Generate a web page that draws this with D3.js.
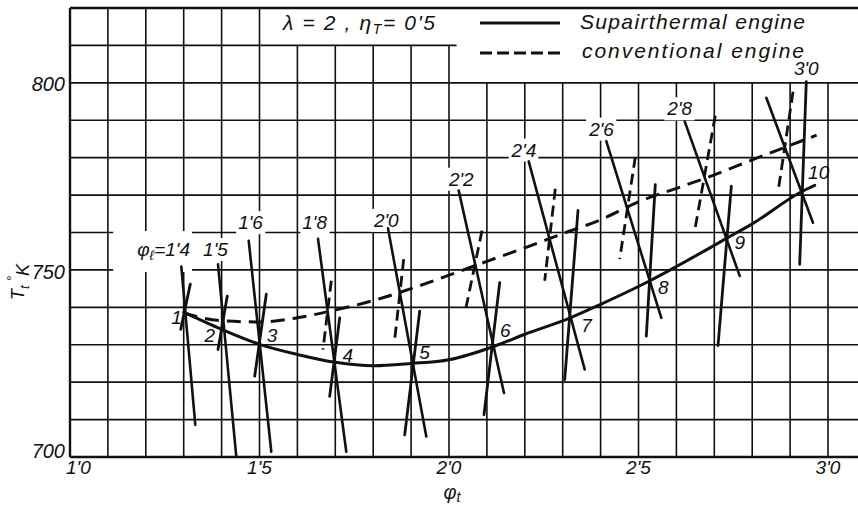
<!DOCTYPE html>
<html><head><meta charset="utf-8">
<script src="https://cdn.jsdelivr.net/npm/d3@7"></script>
<style>
body{margin:0;background:#fff}
text{font-family:"Liberation Sans","DejaVu Sans",sans-serif;font-style:italic;fill:#111}
</style>
</head><body>
<svg id="c" width="858" height="508"></svg>
<script>
// ---------------- DATA ----------------
const xTicks = [1.0, 1.5, 2.0, 2.5, 3.0];
const xTickLabels = ["1'0", "1'5", "2'0", "2'5", "3'0"];
const yTicks = [700, 750, 800];
const yTickLabels = ["700", "750", "800"];

// Supairthermal engine (solid)
const supPhi = [1.30, 1.40, 1.50, 1.60, 1.70, 1.80, 1.90, 2.00, 2.12, 2.20, 2.32, 2.40, 2.53, 2.60, 2.73, 2.80, 2.93, 2.965];
const supT   = [738.7, 734.1, 730.1, 727.4, 725.3, 724.4, 725.0, 726.0, 729.6, 732.8, 737.2, 740.8, 747.1, 750.9, 758.3, 762.3, 770.9, 772.6];

// Conventional engine (dashed)
const convPhi = [1.30, 1.40, 1.50, 1.60, 1.70, 1.80, 1.90, 2.00, 2.10, 2.20, 2.30, 2.40, 2.50, 2.60, 2.70, 2.80, 2.90, 2.97];
const convT   = [738.5, 736.4, 736.1, 737.2, 739.3, 741.8, 745.0, 748.6, 752.3, 755.9, 759.7, 763.4, 768.2, 771.8, 775.4, 779.4, 783.3, 786.0];

// numbered operating points on the solid curve
const pointNames = ["1", "2", "3", "4", "5", "6", "7", "8", "9", "10"];
const pointPhi = [1.303, 1.401, 1.498, 1.698, 1.903, 2.116, 2.320, 2.528, 2.732, 2.929];
const pointT   = [738.7, 734.1, 730.1, 725.3, 725.0, 729.6, 737.2, 747.1, 758.3, 770.9];

// phi_l construction lines: [phi1, T1, phi2, T2]
const stationNames = ["1'4", "1'5", "1'6", "1'8", "2'0", "2'2", "2'4", "2'6", "2'8", "3'0"];
const stationLong = [
  [1.2937, 750.9, 1.3306, 708.6],
  [1.3905, 751.5, 1.4388, 700.1],
  [1.4715, 757.8, 1.5311, 701.4],
  [1.6544, 758.3, 1.7290, 701.4],
  [1.8391, 761.1, 1.9401, 705.5],
  [2.0256, 771.2, 2.1451, 717.1],
  [2.2103, 779.0, 2.3580, 723.4],
  [2.4150, 784.4, 2.5602, 737.2],
  [2.6219, 789.7, 2.7670, 748.4],
  [2.8372, 796.0, 2.9604, 762.6]
];
const stationCross = [
  [1.3174, 746.2, 1.2921, 734.1],
  [1.4150, 743.0, 1.3905, 728.7],
  [1.5179, 743.5, 1.4873, 721.6],
  [1.7116, 737.2, 1.6852, 716.2],
  [1.9227, 739.0, 1.8831, 705.9],
  [2.1338, 746.6, 2.0923, 711.3],
  [2.3404, 765.9, 2.3053, 720.7],
  [2.5443, 772.8, 2.5206, 732.3],
  [2.7449, 772.4, 2.7098, 729.8],
  [2.9427, 800.3, 2.9253, 751.5]
];
const stationDash = [
  [1.6894, 747.1, 1.6675, 728.7],
  [1.8805, 752.9, 1.8567, 731.4],
  [2.0871, 760.5, 2.0430, 739.0],
  [2.2805, 771.7, 2.2525, 747.1],
  [2.4916, 780.2, 2.4504, 752.9],
  [2.7026, 791.2, 2.6483, 760.5],
  [2.9077, 797.6, 2.8681, 770.8]
];
const stationLabelPhi = [1.3166, 1.3839, 1.4763, 1.6456, 1.8346, 2.0325, 2.1979, 2.4024, 2.6087, 2.9427];
const stationLabelT   = [753.7, 753.7, 760.9, 760.9, 761.5, 772.5, 780.3, 785.9, 791.3, 802.0];

// ---------------- LAYOUT ----------------
const svg = d3.select("#c");
svg.append("rect").attr("width", 858).attr("height", 508).attr("fill", "#fff");
const x = d3.scaleLinear().domain([1, 3]).range([70, 828]);
const y = d3.scaleLinear().domain([700, 820]).range([457, 8]);
const ink = "#111";

// grid
const g = svg.append("g").attr("stroke", ink).attr("fill", "none");
const vx = d3.range(10, 32).map(d => d / 10);
vx.forEach(p => {
  const top = p <= 1.5001 ? 820 : (p <= 2.0001 ? 810 : 800);
  g.append("line").attr("x1", x(p)).attr("x2", x(p)).attr("y1", y(700)).attr("y2", y(top))
    .attr("stroke-width", p === 1 ? 2.4 : 1.6);
});
d3.range(700, 830, 10).forEach(t => {
  const x2 = t === 810 ? x(2.02) : 858;
  g.append("line").attr("x1", x(1)).attr("x2", x2).attr("y1", y(t)).attr("y2", y(t))
    .attr("stroke-width", (t === 700 || t === 820) ? 2.4 : 1.6);
});

// station labels with knock-out backgrounds
const knockG = svg.append("g");
const lineG = svg.append("g").attr("stroke", ink).attr("fill", "none").attr("stroke-linecap", "round");
const labG = svg.append("g");

stationNames.forEach((nm, i) => {
  const t = labG.append("text")
    .attr("x", x(stationLabelPhi[i])).attr("y", y(stationLabelT[i]))
    .attr("font-size", 19)
    .attr("text-anchor", i === 0 ? "end" : "middle");
  if (i === 0) {
    t.append("tspan").text("φ");
    t.append("tspan").attr("font-size", 14).attr("dy", 4).text("ℓ");
    t.append("tspan").attr("dy", -4).text("=" + nm);
  } else {
    t.text(nm);
  }
  const b = t.node().getBBox();
  const pad = i === 0 ? [24, 8, 2, 9] : [2, 1, 2, 1]; // left, top, right, bottom
  knockG.append("rect").attr("x", b.x - pad[0]).attr("y", b.y - pad[1])
    .attr("width", b.width + pad[0] + pad[2]).attr("height", b.height + pad[1] + pad[3])
    .attr("fill", "#fff");
});

// construction lines
const seg = (arr, dashed, w) => arr.forEach(s => {
  lineG.append("line").attr("x1", x(s[0])).attr("y1", y(s[1])).attr("x2", x(s[2])).attr("y2", y(s[3]))
    .attr("stroke-width", w).attr("stroke-dasharray", dashed ? "11,6" : null)
    .attr("stroke-linecap", dashed ? "butt" : "round");
});
seg(stationLong, false, 2.6);
seg(stationCross, false, 2.8);
seg(stationDash, true, 2.8);

// curves
const line = d3.line().x(d => x(d[0])).y(d => y(d[1])).curve(d3.curveMonotoneX);
lineG.append("path").attr("d", line(d3.zip(supPhi, supT))).attr("stroke-width", 3);
lineG.append("path").attr("d", line(d3.zip(convPhi, convT))).attr("stroke-width", 3)
  .attr("stroke-dasharray", "14,8").attr("stroke-linecap", "butt");

// point labels
const pdx = [-3, -7, 8, 8, 7, 7, 11, 9, 8, 7];
const pdy = [12, 13, -2, 0, -4, -9, 14, 13, 10, -13];
pointNames.forEach((nm, i) => {
  labG.append("text").attr("x", x(pointPhi[i]) + pdx[i]).attr("y", y(pointT[i]) + pdy[i])
    .attr("font-size", 19).attr("text-anchor", i < 2 ? "end" : "start").text(nm);
});

// axis tick labels
xTicks.forEach((v, i) => {
  labG.append("text").attr("x", i === 0 ? x(v) - 4 : x(v)).attr("y", 474).attr("font-size", 19)
    .attr("text-anchor", i === 0 ? "start" : "middle").text(xTickLabels[i]);
});
const ydy = [-6, 2, 1];
yTicks.forEach((v, i) => {
  labG.append("text").attr("x", 65).attr("y", y(v) + ydy[i]).attr("dy", "0.36em")
    .attr("font-size", 20).attr("text-anchor", "end").text(yTickLabels[i]);
});

// axis titles
const xt = labG.append("text").attr("x", 452).attr("y", 499).attr("font-size", 20).attr("text-anchor", "middle");
xt.append("tspan").text("φ");
xt.append("tspan").attr("font-size", 14).attr("dy", 3).text("t");

const yt = labG.append("text").attr("transform", "translate(24,300) rotate(-90)").attr("font-size", 18);
yt.append("tspan").text("T");
yt.append("tspan").attr("font-size", 13).attr("dy", 5).text("t");
yt.append("tspan").attr("dy", -12).attr("font-size", 14).text(" °");
yt.append("tspan").attr("dy", 12).text("K");

// legend
const l1 = labG.append("text").attr("x", 283).attr("y", 30).attr("font-size", 21)
  .attr("textLength", 152).attr("lengthAdjust", "spacing");
l1.append("tspan").text("λ = 2 ,  η");
l1.append("tspan").attr("font-size", 14).attr("dy", 4).text("T");
l1.append("tspan").attr("dy", -4).text("= 0'5");
lineG.append("line").attr("x1", 480).attr("x2", 560).attr("y1", 23).attr("y2", 23).attr("stroke-width", 2.8).attr("stroke-linecap", "butt");
lineG.append("line").attr("x1", 480).attr("x2", 560).attr("y1", 53).attr("y2", 53).attr("stroke-width", 3)
  .attr("stroke-dasharray", "12,5").attr("stroke-linecap", "butt");
labG.append("text").attr("x", 580).attr("y", 29).attr("font-size", 21)
  .attr("textLength", 225).attr("lengthAdjust", "spacing").text("Supairthermal engine");
labG.append("text").attr("x", 582).attr("y", 58).attr("font-size", 21)
  .attr("textLength", 222).attr("lengthAdjust", "spacing").text("conventional engine");
</script>
</body></html>
